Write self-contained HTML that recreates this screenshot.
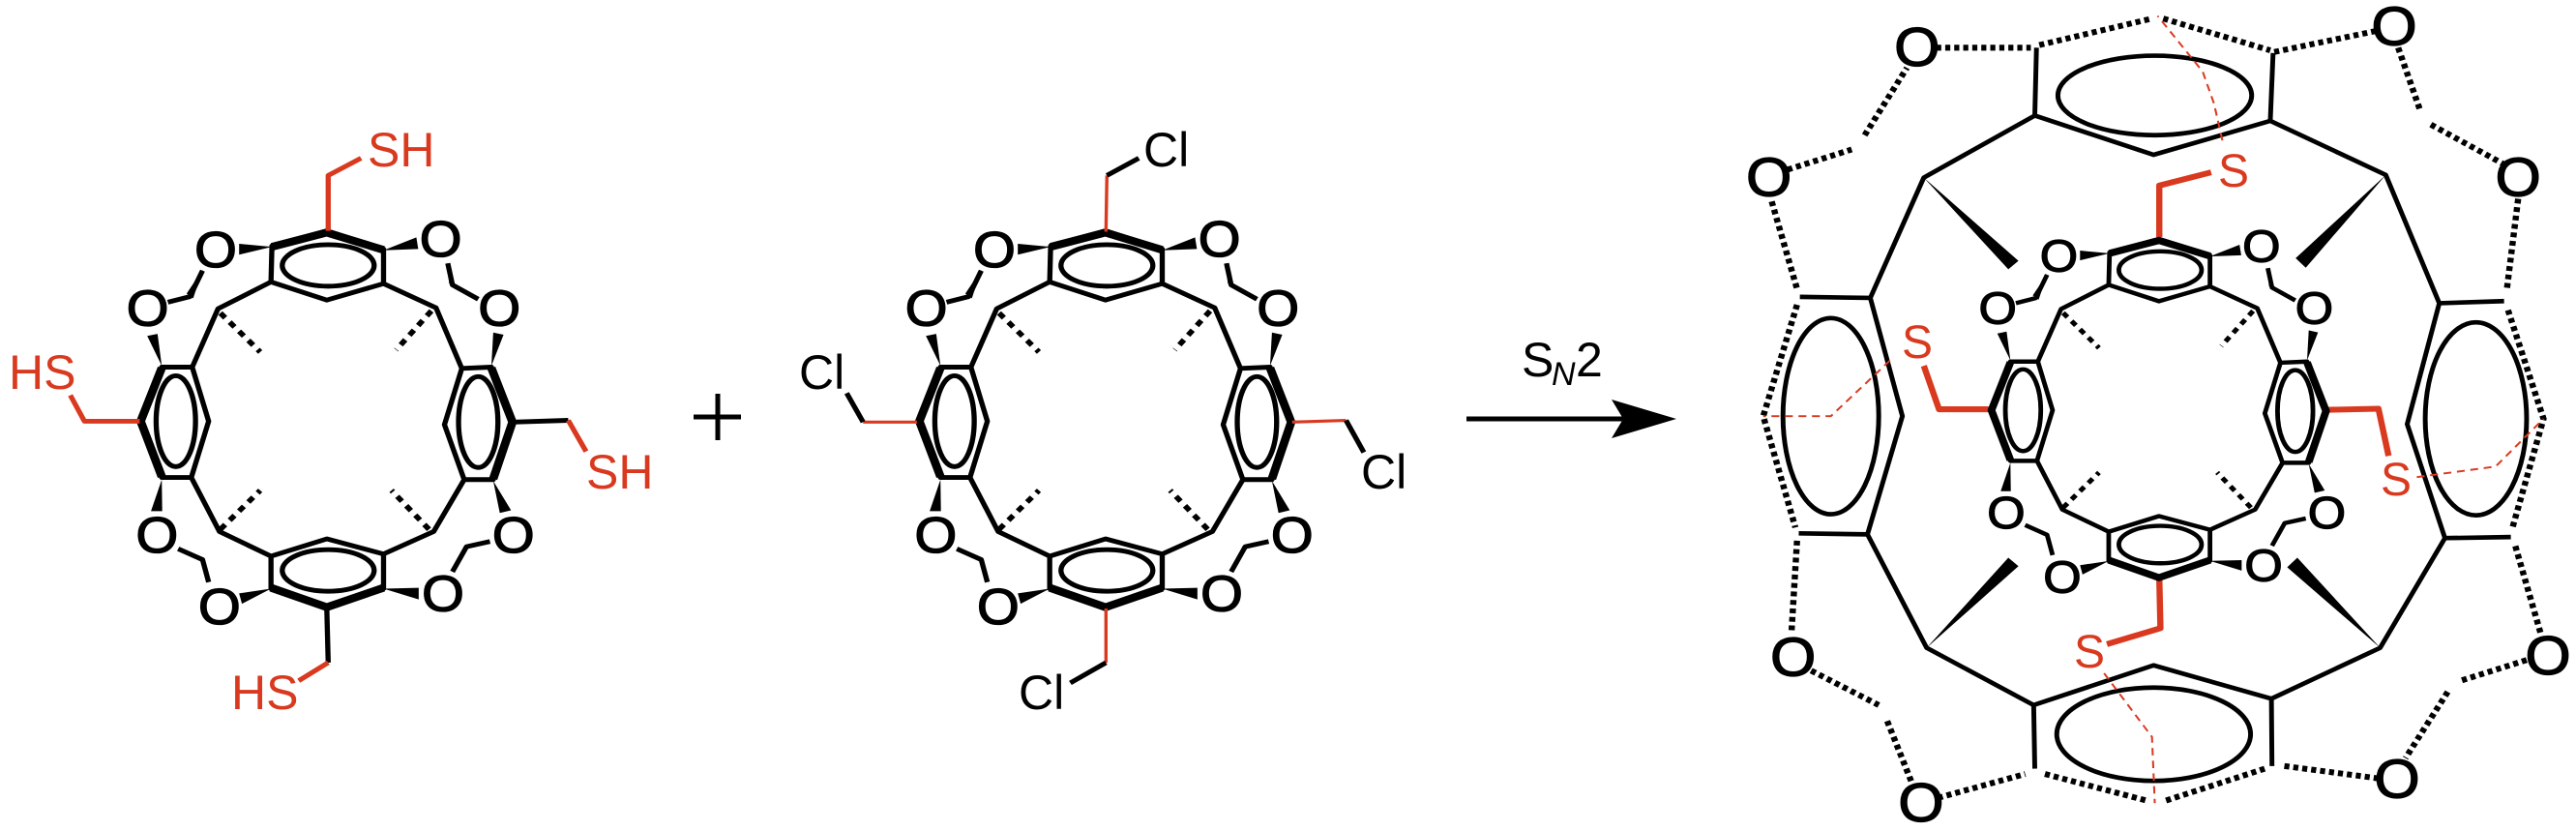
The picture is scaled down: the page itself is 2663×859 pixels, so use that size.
<!DOCTYPE html>
<html><head><meta charset="utf-8"><style>
html,body{margin:0;padding:0;background:#fff;}
svg{display:block;}
text{font-family:"Liberation Sans",sans-serif;}
.b{stroke:#000;stroke-width:11;fill:none;stroke-linejoin:round;stroke-linecap:butt;}
.bb{stroke:#000;stroke-width:18;fill:none;stroke-linejoin:round;}
.d{stroke:#000;stroke-width:12;fill:none;stroke-dasharray:15 14;}
.r{stroke:#d9391f;stroke-width:11;fill:none;stroke-linejoin:round;}
.rt{stroke:#d9391f;stroke-width:7;fill:none;}
.rd{stroke:#d9391f;stroke-width:3.5;fill:none;stroke-dasharray:14 10;}
.ob{stroke:#000;stroke-width:8.5;fill:none;stroke-linejoin:round;}
.od{stroke:#000;stroke-width:11;fill:none;stroke-dasharray:9 7;}
.o{font-size:116px;text-anchor:middle;dominant-baseline:central;fill:#000;stroke:#000;stroke-width:3;}
.oo{font-size:104px;text-anchor:middle;dominant-baseline:central;fill:#000;stroke:#000;stroke-width:2.5;}
</style></head><body>
<svg width="2663" height="859" viewBox="0 0 2663 859" xmlns="http://www.w3.org/2000/svg">

<!-- ============ Molecule 1 (SH) ============ -->
<g transform="translate(0,100) scale(0.4847,0.4472)">
  <polygon class="b" points="580,345 697,310 818,352 818,432 697,470 578,428"/>
  <polyline class="bb" points="580,347 697,314 818,354"/>
  <ellipse class="b" cx="700" cy="390" rx="98" ry="48"/>
  <polygon class="b" points="345,625 410,625 445,750 408,880 345,880 298,750"/>
  <polyline class="bb" points="345,627 300,750 345,878"/>
  <ellipse class="b" cx="375" cy="750" rx="42" ry="105"/>
  <polygon class="b" points="985,628 1048,625 1095,752 1052,885 990,885 948,758"/>
  <polyline class="bb" points="1048,627 1093,752 1052,883"/>
  <ellipse class="b" cx="1020" cy="752" rx="42" ry="105"/>
  <polygon class="b" points="578,1062 697,1022 818,1057 818,1137 697,1183 578,1137"/>
  <polyline class="bb" points="578,1135 697,1180 818,1135"/>
  <ellipse class="b" cx="700" cy="1095" rx="98" ry="48"/>
  <polyline class="b" points="578,428 465,490 410,625"/>
  <polyline class="b" points="818,432 930,488 985,628"/>
  <polyline class="b" points="408,880 468,1005 578,1062"/>
  <polyline class="b" points="990,885 925,1005 818,1057"/>
  <line class="d" x1="470" y1="500" x2="555" y2="590"/>
  <line class="d" x1="920" y1="495" x2="845" y2="585"/>
  <line class="d" x1="470" y1="1000" x2="555" y2="910"/>
  <line class="d" x1="915" y1="1000" x2="835" y2="910"/>
  <polygon points="580,347 510,340 510,365"/>
  <polygon points="818,355 888,325 892,352"/>
  <polygon points="345,622 314,553 336,548"/>
  <polygon points="1048,622 1052,545 1074,550"/>
  <polygon points="345,885 322,958 346,958"/>
  <polygon points="1052,888 1066,962 1090,956"/>
  <polygon points="578,1137 510,1148 516,1172"/>
  <polygon points="818,1137 893,1135 893,1162"/>
  <polyline class="b" points="432,402 405,462 358,475"/>
  <polygon points="432,400 412,466 398,455"/>
  <polyline class="b" points="955,385 965,435 1020,468"/>
  <polygon points="953,383 972,438 958,432"/>
  <polyline class="b" points="380,1045 432,1070 445,1122"/>
  <polygon points="432,1066 446,1122 428,1072"/>
  <polyline class="b" points="965,1098 995,1040 1045,1028"/>
  <polygon points="990,1038 965,1100 998,1045"/>
  <text class="o" x="460" y="355">O</text>
  <text class="o" x="940" y="330">O</text>
  <text class="o" x="315" y="490">O</text>
  <text class="o" x="1065" y="490">O</text>
  <text class="o" x="335" y="1015">O</text>
  <text class="o" x="1095" y="1015">O</text>
  <text class="o" x="468" y="1180">O</text>
  <text class="o" x="945" y="1150">O</text>
  <polyline class="r" points="700,310 700,182 770,142"/>
  <polyline class="r" points="298,750 180,750 150,690"/>
  <line class="b" x1="1095" y1="752" x2="1212" y2="748"/>
  <line class="r" x1="1212" y1="748" x2="1250" y2="820"/>
  <line class="b" x1="697" y1="1183" x2="700" y2="1308"/>
  <line class="r" x1="700" y1="1308" x2="637" y2="1350"/>
</g>
<g fill="#d9391f" font-size="50">
  <text x="380" y="172">SH</text>
  <text x="9" y="402">HS</text>
  <text x="606" y="505">SH</text>
  <text x="239" y="733">HS</text>
</g>

<!-- plus -->
<line x1="717" y1="431" x2="766" y2="431" stroke="#000" stroke-width="5"/>
<line x1="742" y1="407" x2="742" y2="455" stroke="#000" stroke-width="5"/>

<!-- ============ Molecule 2 (Cl) ============ -->
<g transform="translate(805,100) scale(0.4847,0.4472)">
  <polygon class="b" points="580,345 697,310 818,352 818,432 697,470 578,428"/>
  <polyline class="bb" points="580,347 697,314 818,354"/>
  <ellipse class="b" cx="700" cy="390" rx="98" ry="48"/>
  <polygon class="b" points="345,625 410,625 445,750 408,880 345,880 298,750"/>
  <polyline class="bb" points="345,627 300,750 345,878"/>
  <ellipse class="b" cx="375" cy="750" rx="42" ry="105"/>
  <polygon class="b" points="985,628 1048,625 1095,752 1052,885 990,885 948,758"/>
  <polyline class="bb" points="1048,627 1093,752 1052,883"/>
  <ellipse class="b" cx="1020" cy="752" rx="42" ry="105"/>
  <polygon class="b" points="578,1062 697,1022 818,1057 818,1137 697,1183 578,1137"/>
  <polyline class="bb" points="578,1135 697,1180 818,1135"/>
  <ellipse class="b" cx="700" cy="1095" rx="98" ry="48"/>
  <polyline class="b" points="578,428 465,490 410,625"/>
  <polyline class="b" points="818,432 930,488 985,628"/>
  <polyline class="b" points="408,880 468,1005 578,1062"/>
  <polyline class="b" points="990,885 925,1005 818,1057"/>
  <line class="d" x1="470" y1="500" x2="555" y2="590"/>
  <line class="d" x1="920" y1="495" x2="845" y2="585"/>
  <line class="d" x1="470" y1="1000" x2="555" y2="910"/>
  <line class="d" x1="915" y1="1000" x2="835" y2="910"/>
  <polygon points="580,347 510,340 510,365"/>
  <polygon points="818,355 888,325 892,352"/>
  <polygon points="345,622 314,553 336,548"/>
  <polygon points="1048,622 1052,545 1074,550"/>
  <polygon points="345,885 322,958 346,958"/>
  <polygon points="1052,888 1066,962 1090,956"/>
  <polygon points="578,1137 510,1148 516,1172"/>
  <polygon points="818,1137 893,1135 893,1162"/>
  <polyline class="b" points="432,402 405,462 358,475"/>
  <polygon points="432,400 412,466 398,455"/>
  <polyline class="b" points="955,385 965,435 1020,468"/>
  <polygon points="953,383 972,438 958,432"/>
  <polyline class="b" points="380,1045 432,1070 445,1122"/>
  <polygon points="432,1066 446,1122 428,1072"/>
  <polyline class="b" points="965,1098 995,1040 1045,1028"/>
  <polygon points="990,1038 965,1100 998,1045"/>
  <text class="o" x="460" y="355">O</text>
  <text class="o" x="940" y="330">O</text>
  <text class="o" x="315" y="490">O</text>
  <text class="o" x="1065" y="490">O</text>
  <text class="o" x="335" y="1015">O</text>
  <text class="o" x="1095" y="1015">O</text>
  <text class="o" x="468" y="1180">O</text>
  <text class="o" x="945" y="1150">O</text>
  <line class="rt" x1="698" y1="312" x2="700" y2="182"/>
  <line class="b" x1="700" y1="182" x2="768" y2="142"/>
  <line class="rt" x1="295" y1="752" x2="180" y2="752"/>
  <line class="b" x1="180" y1="752" x2="145" y2="685"/>
  <line class="rt" x1="1095" y1="752" x2="1210" y2="748"/>
  <line class="b" x1="1210" y1="748" x2="1248" y2="822"/>
  <line class="rt" x1="698" y1="1183" x2="698" y2="1308"/>
  <line class="b" x1="698" y1="1308" x2="622" y2="1355"/>
</g>
<g fill="#000" font-size="50">
  <text x="1182" y="172">Cl</text>
  <text x="826" y="402">Cl</text>
  <text x="1407" y="505">Cl</text>
  <text x="1053" y="733">Cl</text>
</g>

<!-- arrow -->
<line x1="1516" y1="433" x2="1680" y2="433" stroke="#000" stroke-width="5"/>
<path d="M1666,413 L1733,433 L1666,453 L1678,433 Z" fill="#000"/>
<text x="1573" y="389" font-size="50" fill="#000">S</text>
<text x="1604" y="398" font-size="34" font-style="italic" fill="#000">N</text>
<text x="1629" y="389" font-size="50" fill="#000">2</text>

<!-- ============ Molecule 3 outer cage ============ -->
<g transform="translate(1750,0) scale(0.5824,0.548)">
  <polyline class="ob" points="610,90 607,218 818,292 1025,228 1030,100"/>
  <line class="od" x1="615" y1="85" x2="815" y2="35"/>
  <line class="od" x1="835" y1="35" x2="1025" y2="95"/>
  <ellipse class="ob" cx="820" cy="180" rx="172" ry="75"/>
  <polyline class="ob" points="607,1450 605,1330 818,1255 1027,1318 1028,1445"/>
  <line class="od" x1="625" y1="1460" x2="805" y2="1510"/>
  <line class="od" x1="840" y1="1510" x2="1015" y2="1450"/>
  <ellipse class="ob" cx="818" cy="1385" rx="172" ry="88"/>
  <polyline class="ob" points="190,560 315,562 372,785 310,1008 188,1006"/>
  <polyline class="od" points="185,575 125,785 182,995"/>
  <ellipse class="ob" cx="245" cy="785" rx="85" ry="185"/>
  <polyline class="ob" points="1440,568 1325,572 1268,800 1335,1015 1452,1013"/>
  <polyline class="od" points="1447,585 1510,790 1455,995"/>
  <ellipse class="ob" cx="1390" cy="790" rx="90" ry="182"/>
  <polyline class="ob" points="607,218 410,335 315,562"/>
  <polyline class="ob" points="1025,228 1230,330 1325,572"/>
  <polyline class="ob" points="310,1008 415,1222 605,1330"/>
  <polyline class="ob" points="1335,1015 1220,1222 1027,1318"/>
  <polygon points="410,335 578,492 560,508"/>
  <polygon points="1230,330 1088,505 1070,487"/>
  <polygon points="415,1222 560,1052 578,1068"/>
  <polygon points="1220,1222 1055,1070 1073,1052"/>
  <line class="od" x1="432" y1="90" x2="600" y2="90"/>
  <line class="od" x1="1032" y1="98" x2="1215" y2="58"/>
  <line class="od" x1="168" y1="320" x2="282" y2="282"/>
  <line class="od" x1="305" y1="255" x2="380" y2="128"/>
  <line class="od" x1="1252" y1="90" x2="1290" y2="205"/>
  <line class="od" x1="1310" y1="235" x2="1440" y2="310"/>
  <line class="od" x1="140" y1="380" x2="185" y2="545"/>
  <line class="od" x1="1465" y1="375" x2="1445" y2="545"/>
  <line class="od" x1="185" y1="1020" x2="175" y2="1195"/>
  <line class="od" x1="1460" y1="1030" x2="1505" y2="1195"/>
  <line class="od" x1="210" y1="1265" x2="330" y2="1330"/>
  <line class="od" x1="345" y1="1360" x2="390" y2="1480"/>
  <line class="od" x1="435" y1="1505" x2="590" y2="1460"/>
  <line class="od" x1="1050" y1="1445" x2="1215" y2="1468"/>
  <line class="od" x1="1480" y1="1245" x2="1360" y2="1285"/>
  <line class="od" x1="1340" y1="1305" x2="1265" y2="1430"/>
  <text class="oo" x="398" y="90">O</text>
  <text class="oo" x="1245" y="50">O</text>
  <text class="oo" x="135" y="335">O</text>
  <text class="oo" x="1465" y="335">O</text>
  <text class="oo" x="178" y="1240">O</text>
  <text class="oo" x="1518" y="1237">O</text>
  <text class="oo" x="405" y="1515">O</text>
  <text class="oo" x="1250" y="1470">O</text>
  <polyline class="r" points="828,447 828,350 920,325"/>
  <polyline class="r" points="525,772 437,772 410,690"/>
  <polyline class="r" points="1127,773 1217,771 1235,860"/>
  <polyline class="r" points="828,1090 830,1185 735,1215"/>
  <polyline class="rd" points="940,265 925,195 905,135 825,30"/>
  <polyline class="rd" points="350,680 245,785 125,785"/>
  <polyline class="rd" points="1285,900 1425,880 1510,790"/>
  <polyline class="rd" points="730,1270 815,1390 820,1515"/>
</g>
<g fill="#d9391f" font-size="48">
  <text x="2293" y="193">S</text>
  <text x="1966" y="370">S</text>
  <text x="2461" y="512">S</text>
  <text x="2144" y="690">S</text>
</g>

<!-- inner molecule -->
<g transform="translate(2232,421) scale(0.9) translate(-338,-432) translate(0,100) scale(0.4847,0.4472)">
  <polygon class="b" points="580,345 697,310 818,352 818,432 697,470 578,428"/>
  <polyline class="bb" points="580,347 697,314 818,354"/>
  <ellipse class="b" cx="700" cy="390" rx="98" ry="48"/>
  <polygon class="b" points="345,625 410,625 445,750 408,880 345,880 298,750"/>
  <polyline class="bb" points="345,627 300,750 345,878"/>
  <ellipse class="b" cx="375" cy="750" rx="42" ry="105"/>
  <polygon class="b" points="985,628 1048,625 1095,752 1052,885 990,885 948,758"/>
  <polyline class="bb" points="1048,627 1093,752 1052,883"/>
  <ellipse class="b" cx="1020" cy="752" rx="42" ry="105"/>
  <polygon class="b" points="578,1062 697,1022 818,1057 818,1137 697,1183 578,1137"/>
  <polyline class="bb" points="578,1135 697,1180 818,1135"/>
  <ellipse class="b" cx="700" cy="1095" rx="98" ry="48"/>
  <polyline class="b" points="578,428 465,490 410,625"/>
  <polyline class="b" points="818,432 930,488 985,628"/>
  <polyline class="b" points="408,880 468,1005 578,1062"/>
  <polyline class="b" points="990,885 925,1005 818,1057"/>
  <line class="d" x1="470" y1="500" x2="555" y2="590"/>
  <line class="d" x1="920" y1="495" x2="845" y2="585"/>
  <line class="d" x1="470" y1="1000" x2="555" y2="910"/>
  <line class="d" x1="915" y1="1000" x2="835" y2="910"/>
  <polygon points="580,347 510,340 510,365"/>
  <polygon points="818,355 888,325 892,352"/>
  <polygon points="345,622 314,553 336,548"/>
  <polygon points="1048,622 1052,545 1074,550"/>
  <polygon points="345,885 322,958 346,958"/>
  <polygon points="1052,888 1066,962 1090,956"/>
  <polygon points="578,1137 510,1148 516,1172"/>
  <polygon points="818,1137 893,1135 893,1162"/>
  <polyline class="b" points="432,402 405,462 358,475"/>
  <polygon points="432,400 412,466 398,455"/>
  <polyline class="b" points="955,385 965,435 1020,468"/>
  <polygon points="953,383 972,438 958,432"/>
  <polyline class="b" points="380,1045 432,1070 445,1122"/>
  <polygon points="432,1066 446,1122 428,1072"/>
  <polyline class="b" points="965,1098 995,1040 1045,1028"/>
  <polygon points="990,1038 965,1100 998,1045"/>
  <text class="o" x="460" y="355">O</text>
  <text class="o" x="940" y="330">O</text>
  <text class="o" x="315" y="490">O</text>
  <text class="o" x="1065" y="490">O</text>
  <text class="o" x="335" y="1015">O</text>
  <text class="o" x="1095" y="1015">O</text>
  <text class="o" x="468" y="1180">O</text>
  <text class="o" x="945" y="1150">O</text>
</g>
</svg>
</body></html>
